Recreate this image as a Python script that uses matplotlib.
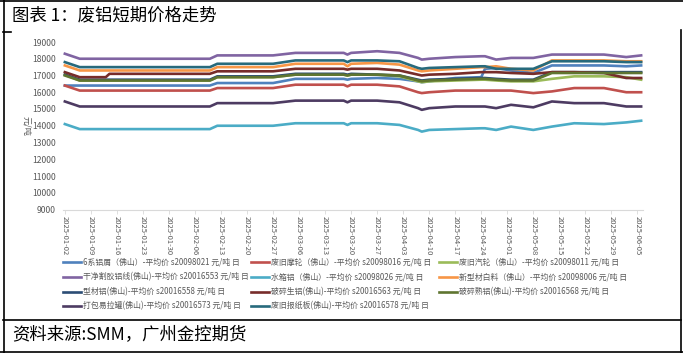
import matplotlib
matplotlib.use('Agg')
import matplotlib.pyplot as plt
import matplotlib.dates as mdates
from matplotlib.lines import Line2D
import pandas as pd

plt.rcParams['font.family'] = ['Noto Sans CJK SC', 'DejaVu Sans']

# ---------------- data (元/吨) ----------------
dates = pd.to_datetime([
    '2025-01-02', '2025-01-06', '2025-01-13', '2025-01-14', '2025-02-10',
    '2025-02-12', '2025-02-27', '2025-03-05', '2025-03-18', '2025-03-19',
    '2025-03-20', '2025-03-27', '2025-04-02', '2025-04-07', '2025-04-08',
    '2025-04-10', '2025-04-17', '2025-04-24', '2025-04-25', '2025-04-28',
    '2025-05-02', '2025-05-08', '2025-05-13', '2025-05-19', '2025-05-27',
    '2025-06-02', '2025-06-06'])

lvxie_6 = [16400, 16400, 16400, 16400, 16400, 16550, 16550, 16800, 16800, 16750, 16800, 16850, 16800, 16650,
           16600, 16650, 16850, 16900, 17400, 17450, 17300, 17150, 17600, 17600, 17600, 17550, 17600]
molun = [16400, 16100, 16100, 16100, 16100, 16250, 16250, 16450, 16450, 16350, 16450, 16450, 16350, 16000,
         15950, 16000, 16100, 16100, 16100, 16100, 16100, 15950, 16050, 16250, 16250, 16000, 16000]
qilun = [17050, 16700, 16700, 16700, 16700, 16900, 16900, 17050, 17050, 17000, 17050, 17050, 16950, 16650,
         16600, 16650, 16700, 16750, 16750, 16700, 16650, 16650, 16800, 16950, 16950, 16900, 16750]
gejiao = [18300, 18000, 18000, 18000, 18000, 18200, 18200, 18350, 18350, 18250, 18350, 18450, 18350, 18050,
          17950, 18000, 18100, 18150, 18150, 17950, 18050, 18050, 18250, 18250, 18250, 18100, 18200]
shuixiang = [14100, 13800, 13800, 13800, 13800, 14000, 14000, 14150, 14150, 14050, 14150, 14150, 14050, 13750,
             13650, 13750, 13800, 13850, 13850, 13750, 13950, 13750, 13950, 14150, 14100, 14200, 14300]
baiiao = [17600, 17300, 17300, 17300, 17300, 17500, 17500, 17700, 17700, 17550, 17700, 17750, 17650, 17300,
          17250, 17300, 17400, 17500, 17500, 17550, 17400, 17300, 17900, 17900, 17900, 17850, 17850]
xingcai = [17050, 16750, 16750, 16750, 16750, 16950, 16950, 17100, 17100, 17050, 17100, 17050, 17000, 16750,
           16700, 16750, 16800, 16850, 16850, 16800, 16750, 16750, 17200, 17200, 17200, 17200, 17200]
shenglv = [17200, 16900, 16900, 17100, 17100, 17250, 17250, 17400, 17400, 17350, 17400, 17400, 17300, 17050,
           17000, 17050, 17100, 17200, 17200, 17200, 17150, 17100, 17200, 17200, 17150, 16850, 16850]
shulv = [17000, 16700, 16700, 16700, 16700, 16900, 16900, 17050, 17050, 17000, 17050, 17050, 17000, 16700,
         16650, 16700, 16750, 16800, 16800, 16750, 16700, 16700, 17150, 17150, 17150, 17150, 17150]
yilaguan = [15450, 15150, 15150, 15150, 15150, 15350, 15350, 15500, 15500, 15400, 15500, 15500, 15400, 15050,
            14950, 15050, 15150, 15150, 15150, 15050, 15250, 15100, 15450, 15350, 15350, 15150, 15150]
zhiban = [17800, 17500, 17500, 17500, 17500, 17700, 17700, 17900, 17900, 17800, 17900, 17900, 17850, 17450,
          17400, 17450, 17500, 17550, 17550, 17400, 17400, 17400, 17850, 17850, 17850, 17800, 17800]

series = [lvxie_6, molun, qilun, gejiao, shuixiang, baiiao, xingcai, shenglv, shulv, yilaguan, zhiban]
labels = [
    '6系铝屑（佛山）-平均价 s20098021 元/吨 日',
    '废旧摩轮（佛山）-平均价 s20098016 元/吨 日',
    '废旧汽轮（佛山）-平均价 s20098011 元/吨 日',
    '干净割胶铝线(佛山)-平均价 s20016553 元/吨 日',
    '水箱铝（佛山）-平均价 s20098026 元/吨 日',
    '新型材白料（佛山）-平均价 s20098006 元/吨 日',
    '型材铝(佛山)-平均价 s20016558 元/吨 日',
    '破碎生铝(佛山)-平均价 s20016563 元/吨 日',
    '破碎熟铝(佛山)-平均价 s20016568 元/吨 日',
    '打包易拉罐(佛山)-平均价 s20016573 元/吨 日',
    '废旧报纸板(佛山)-平均价 s20016578 元/吨 日',
]
colors = ['#4F81BD', '#C0504D', '#9BBB59', '#8064A2', '#4BACC6', '#F79646',
          '#2C4D75', '#772C2A', '#5F7530', '#4D3B62', '#276A7C']

tick_dates = pd.date_range('2025-01-02', '2025-06-05', freq='7D')

# ---------------- figure ----------------
W, H = 683, 353
fig = plt.figure(figsize=(W / 100, H / 100), dpi=100)
ax = fig.add_axes([63 / W, 1 - 209.5 / H, (643 - 63) / W, (209.5 - 42) / H])

for vals, c, lab in zip(series, colors, labels):
    ax.plot(dates, vals, color=c, lw=1.9, label=lab, solid_joinstyle='round')

ax.set_ylim(9000, 19000)
ax.set_yticks(range(9000, 19001, 1000))
ax.set_xlim(pd.Timestamp('2025-01-02') - pd.Timedelta(hours=12),
            pd.Timestamp('2025-06-06') + pd.Timedelta(hours=12))
ax.set_xticks(tick_dates)
ax.xaxis.set_major_formatter(mdates.DateFormatter('%Y-%m-%d'))
for lbl in ax.get_xticklabels():
    lbl.set_rotation(270)
ax.tick_params(axis='x', colors='#D9D9D9', labelcolor='#595959', labelsize=5.5,
               length=3, width=0.6, pad=2)
ax.tick_params(axis='y', length=0, labelcolor='#595959', labelsize=6.2, pad=5)
for s in ['top', 'right', 'left']:
    ax.spines[s].set_visible(False)
ax.spines['bottom'].set_color('#D9D9D9')
ax.spines['bottom'].set_linewidth(0.8)

# unit label, placed left of the tick labels
fig.text(27 / W, 1 - 126 / H, '元/吨', color='#595959', fontsize=6, rotation=270,
         ha='center', va='center')

# legend, laid out row by row like the original
col_x = [63, 251, 439]
row_y = [262, 277, 291.5, 306]
for i, (c, lab) in enumerate(zip(colors, labels)):
    r, k = divmod(i, 3)
    x0, y0 = col_x[k], row_y[r]
    fig.add_artist(Line2D([x0 / W, (x0 + 18) / W], [1 - y0 / H, 1 - y0 / H],
                          color=c, lw=1.9, transform=fig.transFigure))
    fig.text((x0 + 20) / W, 1 - y0 / H, lab, fontsize=5.7, color='#595959',
             va='center', ha='left')

# title, source and frame
fig.text(12 / W, 1 - 15 / H, '图表 1：废铝短期价格走势', fontsize=12.5, va='center', ha='left')
fig.text(12 / W, 1 - 334 / H, '资料来源:SMM，广州金控期货', fontsize=12.5, va='center', ha='left')


def hline(y, x0, x1, lw=1.2):
    fig.add_artist(Line2D([x0 / W, x1 / W], [1 - y / H, 1 - y / H], color='black', lw=lw,
                          transform=fig.transFigure))


def vline(x, y0, y1, lw=1.2):
    fig.add_artist(Line2D([x / W, x / W], [1 - y0 / H, 1 - y1 / H], color='black', lw=lw,
                          transform=fig.transFigure))


hline(0.8, 0, W)
hline(32, 3, 11)
hline(320, 3, 681)
hline(351.5, 0, W)
vline(3.5, 0, 353)
vline(680.5, 30, 353)

fig.savefig('out.png', dpi=100, facecolor='white')
